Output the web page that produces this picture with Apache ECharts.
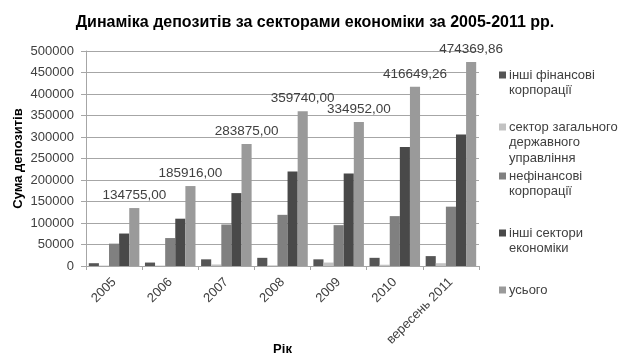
<!DOCTYPE html>
<html>
<head>
<meta charset="utf-8">
<script src="https://cdn.jsdelivr.net/npm/echarts@6/dist/echarts.min.js"></script>
<style>
html,body{margin:0;padding:0;background:#fff;}
#chart{width:630px;height:361px;}
</style>
</head>
<body>
<div id="chart"></div>
<script>
var categories = ['2005', '2006', '2007', '2008', '2009', '2010', 'вересень 2011'];
var seriesNames = ['інші фінансові\nкорпорації', 'сектор загального\nдержавного\nуправління', 'нефінансові\nкорпорації', 'інші сектори\nекономіки', 'усього'];
var otherFinancial = [6500, 8000, 15500, 19000, 15500, 19000, 23000];
var generalGov = [1000, 1000, 3500, 1500, 8000, 3000, 6500];
var nonFinancial = [52000, 65000, 96500, 119000, 95000, 116000, 138000];
var otherSectors = [75500, 110000, 169500, 220000, 215000, 277000, 306000];
var total = [134755.00, 185916.00, 283875.00, 359740.00, 334952.00, 416649.26, 474369.86];
var yTicks = {min: 0, max: 500000, interval: 50000};

var colors = ['#555555', '#c2c2c2', '#808080', '#494949', '#9a9a9a'];
var values = [otherFinancial, generalGov, nonFinancial, otherSectors, total];
var legendLineCenters = [75, 127, 176, 233, 290];
var lh = 15.5;
var txt = '#404040';
var font = '"Liberation Sans", Arial, sans-serif';

var series = seriesNames.map(function (n, i) {
  var s = {
    name: n, type: 'bar', data: values[i],
    itemStyle: {color: colors[i]},
    barGap: '0%', barCategoryGap: '10%'
  };
  if (i === 4) {
    s.label = {
      show: true, position: 'top', distance: 6,
      color: txt, fontSize: 13.5, fontFamily: font,
      formatter: function (p) { return p.value.toFixed(2).replace('.', ','); }
    };
  }
  return s;
});

var legends = seriesNames.map(function (n, i) {
  var lines = n.split('\n').length;
  var pad = new Array(lines).join('\n');
  return {
    orient: 'vertical', left: 499, top: legendLineCenters[i] - (lines - 0.5) * lh,
    data: [n], itemWidth: 7, itemHeight: 7, itemGap: 0, padding: 0,
    icon: 'rect', selectedMode: false,
    formatter: function (name) { return pad + name; },
    textStyle: {color: txt, fontSize: 13, fontFamily: font, lineHeight: lh, padding: [0, 0, 0, -2]}
  };
});

var chart = echarts.init(document.getElementById('chart'));
chart.setOption({
  animation: false,
  backgroundColor: '#ffffff',
  title: {
    text: 'Динаміка депозитів за секторами економіки за 2005-2011 рр.',
    left: 'center', top: 10,
    textStyle: {fontSize: 16, fontWeight: 'bold', color: '#000', fontFamily: font}
  },
  legend: legends,
  grid: {left: 86, right: 151, top: 51, bottom: 95, outerBoundsMode: 'none', containLabel: false},
  xAxis: {
    type: 'category', data: categories,
    name: 'Рік', nameLocation: 'middle', nameGap: 77, nameMoveOverlap: false,
    nameTextStyle: {fontSize: 13, fontWeight: 'bold', color: '#000', fontFamily: font},
    axisLine: {lineStyle: {color: '#a6a6a6'}},
    axisTick: {show: true, length: 4, lineStyle: {color: '#a6a6a6'}},
    axisLabel: {rotate: 45, fontSize: 13, color: txt, fontFamily: font, margin: 14, interval: 0}
  },
  yAxis: {
    type: 'value', min: yTicks.min, max: yTicks.max, interval: yTicks.interval,
    name: 'Сума депозитів', nameLocation: 'middle', nameRotate: 90, nameGap: 61, nameMoveOverlap: false,
    nameTextStyle: {fontSize: 13, fontWeight: 'bold', color: '#000', fontFamily: font},
    axisLine: {show: true, lineStyle: {color: '#a6a6a6'}},
    axisTick: {show: true, length: 5, lineStyle: {color: '#a6a6a6'}},
    axisLabel: {fontSize: 13, color: txt, fontFamily: font, margin: 12,
      formatter: function (v) { return String(v); }},
    splitLine: {lineStyle: {color: '#a6a6a6'}}
  },
  series: series
});
</script>
</body>
</html>
